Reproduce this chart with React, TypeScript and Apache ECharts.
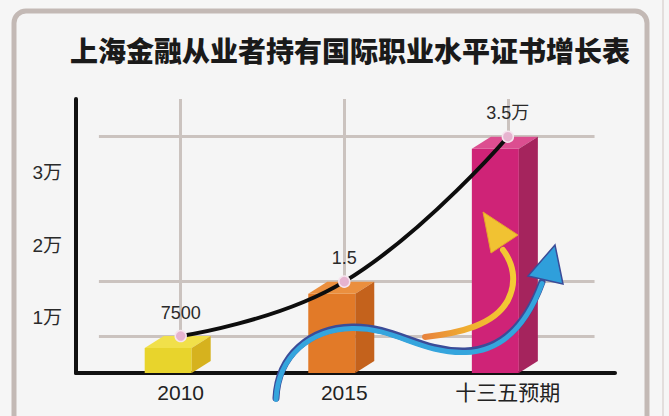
import React, { useEffect, useRef } from "react";
import * as echarts from "echarts";

const categories = ["2010", "2015", "十三五预期"];
const values = [7500, 15000, 35000];
const valueLabels = ["7500", "1.5", "3.5万"];
const yTickValues = [10000, 20000, 30000];
const yTickLabels = ["1万", "2万", "3万"];

const frontColors = ["#e8d42c", "#e27a28", "#cf2377"];
const topColors = ["#f1e04a", "#eb8f3e", "#dc4e90"];
const sideColors = ["#d6b21e", "#c4621c", "#a5245d"];

const Y_MIN = 2400;
const Y_MAX = 40200;

// decorative arrows (not data)
const blueWaveD = "M276,398 C278,355 310,328 352,327 C395,326 420,352 465,351 C505,350 528,320 542,282";
const yellowArcD = "M425,337 C460,333 495,325 508,300 C518,280 512,262 503,250";
echarts.graphic.registerShape("blueWave", echarts.graphic.extendPath(blueWaveD, {}) as any);
echarts.graphic.registerShape("yellowArc", echarts.graphic.extendPath(yellowArcD, {}) as any);

const FONT = "'Liberation Sans', 'Noto Sans CJK SC', sans-serif";

export default function App() {
  const ref = useRef<HTMLDivElement>(null);
  useEffect(() => {
    document.body.style.margin = "0";
    const chart = echarts.init(ref.current!, null, { renderer: "svg" });

    const renderBox = (params: any, api: any) => {
      const i = params.dataIndex;
      const x = api.value(0);
      const v = api.value(1);
      const p = api.coord([x, v]);
      const b = api.coord([x, Y_MIN]);
      const L = p[0] - 36;
      const F = 47;
      const D = 19;
      const dy = 12;
      const py = p[1];
      const by = b[1];
      return {
        type: "group",
        children: [
          {
            type: "polygon",
            shape: { points: [[L, py + dy], [L + F, py + dy], [L + F, by], [L, by]] },
            style: { fill: frontColors[i] },
          },
          {
            type: "polygon",
            shape: { points: [[L, py + dy], [L + F, py + dy], [L + F + D, py], [L + D, py]] },
            style: { fill: topColors[i] },
          },
          {
            type: "polygon",
            shape: { points: [[L + F, py + dy], [L + F + D, py], [L + F + D, by - dy], [L + F, by]] },
            style: { fill: sideColors[i] },
          },
        ],
      };
    };

    const gridLineData: any[] = [];
    values.forEach((v) => {
      gridLineData.push([{ coord: [-0.5, v] }, { coord: [2.53, v] }]);
    });
    values.forEach((v, i) => {
      gridLineData.push([{ coord: [i, v] }, { coord: [i, Y_MAX] }]);
    });

    chart.setOption({
      animation: false,
      backgroundColor: "#f6f6f6",
      title: {
        text: "上海金融从业者持有国际职业水平证书增长表",
        left: 65,
        top: 31,
        textStyle: {
          fontFamily: "'Noto Sans CJK SC', sans-serif",
          fontWeight: 900,
          fontSize: 28,
          color: "#1a1a1a",
        },
      },
      grid: { left: 76, right: 54, top: 99, bottom: 43 },
      xAxis: {
        type: "value",
        min: -0.64,
        max: 2.655,
        axisLine: { show: true, onZero: false, lineStyle: { color: "#111", width: 4 } },
        axisTick: { show: false },
        splitLine: { show: false },
        axisLabel: {
          customValues: [0, 1, 2],
          formatter: (v: number) => categories[Math.round(v)] ?? "",
          fontSize: 21,
          color: "#222",
          margin: 9,
          fontFamily: FONT,
        },
      },
      yAxis: {
        type: "value",
        min: Y_MIN,
        max: Y_MAX,
        axisLine: { show: true, onZero: false, lineStyle: { color: "#111", width: 4 } },
        axisTick: { show: false },
        splitLine: { show: false },
        axisLabel: {
          customValues: yTickValues,
          formatter: (v: number) => yTickLabels[yTickValues.indexOf(v)] ?? "",
          fontSize: 19,
          color: "#2a2a2a",
          margin: 14,
          fontFamily: FONT,
        },
      },
      graphic: [
        {
          type: "rect",
          z: -10,
          silent: true,
          shape: { x: 14, y: 11, width: 633, height: 450, r: 12 },
          style: { fill: "#f5f5f5", stroke: "#c3b9b5", lineWidth: 5 },
        },
        {
          type: "line",
          z: -10,
          silent: true,
          shape: { x1: 663, y1: 0, x2: 663, y2: 416 },
          style: { stroke: "#dcd6d4", lineWidth: 1.5 },
        },
        {
          type: "yellowArc",
          z: 100,
          silent: true,
          style: {
            fill: "none",
            stroke: new echarts.graphic.LinearGradient(0, 0, 1, 0, [
              { offset: 0, color: "#e8843c" },
              { offset: 0.5, color: "#f0b030" },
              { offset: 1, color: "#f3cc34" },
            ]),
            lineWidth: 6,
            lineCap: "round",
          },
        },
        {
          type: "polygon",
          z: 100,
          silent: true,
          shape: { points: [[483, 212], [491, 253], [518, 235]] },
          style: { fill: "#f1c232", stroke: "#e6a52a", lineWidth: 1 },
        },
        {
          type: "blueWave",
          z: 100,
          silent: true,
          style: { fill: "none", stroke: "#3b4c98", lineWidth: 7, lineCap: "round" },
        },
        {
          type: "blueWave",
          z: 101,
          silent: true,
          y: 1.5,
          style: { fill: "none", stroke: "#35a5dd", lineWidth: 5, lineCap: "round" },
        },
        {
          type: "polygon",
          z: 101,
          silent: true,
          shape: { points: [[555, 245], [528, 276], [563, 284]] },
          style: { fill: "#2f9fdb", stroke: "#3b4c98", lineWidth: 1.5 },
        },
      ],
      series: [
        {
          type: "custom",
          name: "boxes",
          z: 2,
          renderItem: renderBox,
          data: values.map((v, i) => [i, v]),
          markLine: {
            z: 1,
            silent: true,
            symbol: "none",
            label: { show: false },
            lineStyle: { color: "#cbc3bf", width: 3, type: "solid" },
            data: gridLineData,
          },
        },
        {
          type: "line",
          name: "人数",
          z: 5,
          smooth: 0.45,
          data: values.map((v, i) => [i, v]),
          lineStyle: { color: "#0d0d0d", width: 4 },
          symbol: "circle",
          symbolSize: 11,
          itemStyle: { color: "#e6b3cf", borderColor: "#f6e4ee", borderWidth: 1.5 },
          label: {
            show: true,
            position: "top",
            distance: 8,
            formatter: (p: any) => valueLabels[p.dataIndex],
            fontSize: 18,
            color: "#2a2a2a",
            fontFamily: FONT,
          },
        },
      ],
    });
    return () => chart.dispose();
  }, []);
  return <div ref={ref} style={{ position: "fixed", left: 0, top: 0, width: 669, height: 416 }} />;
}
